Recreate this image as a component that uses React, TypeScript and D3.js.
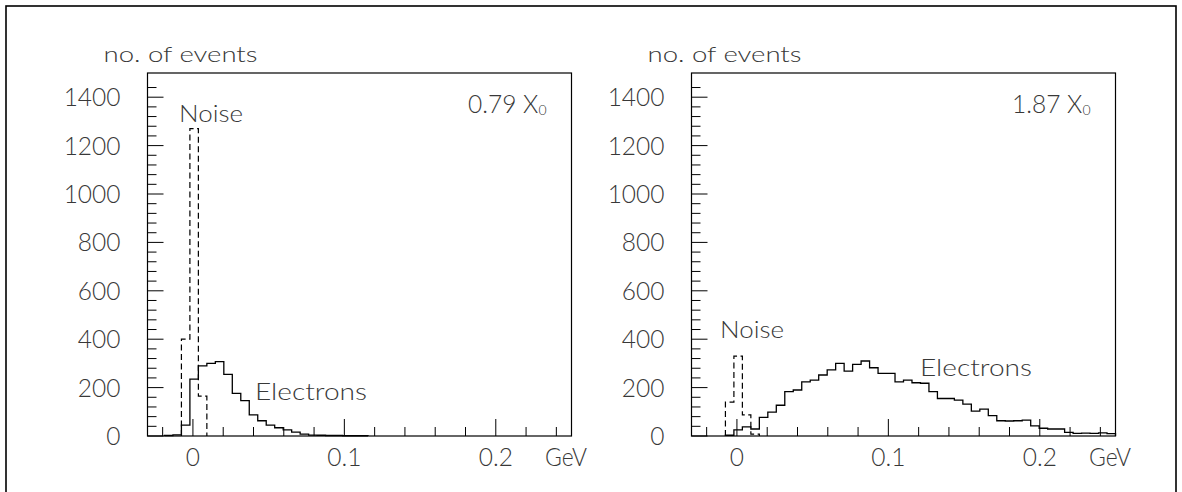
import React from "react";
import * as d3 from "d3";

// Histogram binning shared by both panels: 50 equal bins over the plotted range
const xDomain: [number, number] = [-0.03, 0.25];
const nBins = 50;
const yDomain: [number, number] = [0, 1500];

const yTickValues = [0, 200, 400, 600, 800, 1000, 1200, 1400];
const yTickLabels = ["0", "200", "400", "600", "800", "1000", "1200", "1400"];
const xTickValues = [0, 0.1, 0.2];
const xTickLabels = ["0", "0.1", "0.2"];

// Panel 1: 0.79 X0
const leftElectrons = [
  0, 0, 2, 5, 45, 235, 290, 300, 307, 255, 176, 146, 87, 63, 45, 34, 25, 16, 8, 4,
  3, 2, 2, 1, 1, 1, 0, 0, 0, 0, 0, 0, 0, 0, 0, 0, 0, 0, 0, 0,
  0, 0, 0, 0, 0, 0, 0, 0, 0, 0,
];
const leftNoise = [
  0, 0, 0, 0, 400, 1270, 165, 0, 0, 0, 0, 0, 0, 0, 0, 0, 0, 0, 0, 0,
  0, 0, 0, 0, 0, 0, 0, 0, 0, 0, 0, 0, 0, 0, 0, 0, 0, 0, 0, 0,
  0, 0, 0, 0, 0, 0, 0, 0, 0, 0,
];

// Panel 2: 1.87 X0
const rightElectrons = [
  0, 0, 0, 0, 3, 25, 38, 29, 77, 99, 127, 183, 190, 224, 231, 252, 273, 300, 268, 296,
  310, 282, 259, 259, 224, 231, 220, 218, 183, 155, 155, 148, 132, 103, 111, 84, 63, 62, 63, 66,
  42, 32, 29, 29, 15, 11, 12, 11, 13, 10,
];
const rightNoise = [
  0, 0, 0, 0, 140, 330, 87, 8, 0, 0, 0, 0, 0, 0, 0, 0, 0, 0, 0, 0,
  0, 0, 0, 0, 0, 0, 0, 0, 0, 0, 0, 0, 0, 0, 0, 0, 0, 0, 0, 0,
  0, 0, 0, 0, 0, 0, 0, 0, 0, 0,
];

const FONT = "Lato, 'Open Sans', sans-serif";
const TEXT_COLOR = "#383838";

type PanelProps = {
  left: number;
  right: number;
  top: number;
  bottom: number;
  electrons: number[];
  noise: number[];
  thickness: string;
  noiseLabel: { x: number; y: number };
  electronLabel: { x: number; y: number };
};

// Step outline of a histogram, dropping to the baseline at both ends of its non-empty span
function stepPath(
  values: number[],
  x: d3.ScaleLinear<number, number>,
  y: d3.ScaleLinear<number, number>
): string {
  const width = (xDomain[1] - xDomain[0]) / nBins;
  const first = values.findIndex((v) => v > 0);
  let last = values.length - 1;
  while (last >= 0 && values[last] <= 0) last--;
  if (first < 0) return "";
  const p = d3.path();
  p.moveTo(x(xDomain[0] + first * width), y(0));
  for (let i = first; i <= last; i++) {
    const x0 = x(xDomain[0] + i * width);
    const x1 = x(xDomain[0] + (i + 1) * width);
    p.lineTo(x0, y(values[i]));
    p.lineTo(x1, y(values[i]));
  }
  p.lineTo(x(xDomain[0] + (last + 1) * width), y(0));
  return p.toString();
}

function Panel(props: PanelProps) {
  const { left, right, top, bottom, electrons, noise, thickness } = props;
  const x = d3.scaleLinear().domain(xDomain).range([left, right]);
  const y = d3.scaleLinear().domain(yDomain).range([bottom, top]);

  const yMinor = d3.range(0, 1460, 40).filter((v) => v % 200 !== 0);
  const xMinor = d3
    .range(-0.02, xDomain[1] + 1e-9, 0.02)
    .map((v) => Math.round(v * 100) / 100)
    .filter((v) => Math.abs(Math.round(v * 10) - v * 10) > 1e-6);

  const textProps = {
    fontFamily: FONT,
    fontWeight: 300,
    fill: TEXT_COLOR,
  };

  return (
    <g>
      <text x={left - 44} y={62} fontSize={22} textLength={154} lengthAdjust="spacingAndGlyphs" {...textProps}>
        no. of events
      </text>

      {/* y axis ticks, drawn inward */}
      {yTickValues.map((v) => (
        <line key={"ym" + v} x1={left} x2={left + 16} y1={y(v)} y2={y(v)} stroke="#000" strokeWidth={1} />
      ))}
      {yMinor.map((v) => (
        <line key={"yn" + v} x1={left} x2={left + 9} y1={y(v)} y2={y(v)} stroke="#000" strokeWidth={1} />
      ))}
      {yTickValues.map((v, i) => (
        <text key={"yl" + v} x={left - 27} y={y(v) + 9} textAnchor="end" fontSize={24.5} {...textProps}>
          {yTickLabels[i]}
        </text>
      ))}

      {/* x axis ticks, drawn inward */}
      {xTickValues.map((v) => (
        <line key={"xm" + v} x1={x(v)} x2={x(v)} y1={bottom} y2={bottom - 17} stroke="#000" strokeWidth={1} />
      ))}
      {xMinor.map((v) => (
        <line key={"xn" + v} x1={x(v)} x2={x(v)} y1={bottom} y2={bottom - 9} stroke="#000" strokeWidth={1} />
      ))}
      {xTickValues.map((v, i) => (
        <text key={"xl" + v} x={x(v)} y={bottom + 30} textAnchor="middle" fontSize={24.5} {...textProps}>
          {xTickLabels[i]}
        </text>
      ))}
      <text x={right - 26.5} y={bottom + 30} fontSize={24.5} textLength={42} lengthAdjust="spacingAndGlyphs" {...textProps}>
        GeV
      </text>

      {/* histograms */}
      <path d={stepPath(noise, x, y)} fill="none" stroke="#000" strokeWidth={1.2} strokeDasharray="6,3.5" />
      <path d={stepPath(electrons, x, y)} fill="none" stroke="#000" strokeWidth={1.3} />

      {/* frame */}
      <rect x={left} y={top} width={right - left} height={bottom - top} fill="none" stroke="#000" strokeWidth={1.2} />

      {/* annotations */}
      <text x={right - 25} y={top + 40} textAnchor="end" fontSize={24.5} {...textProps}>
        {thickness + " X"}
        <tspan fontSize={14} dy={2}>
          0
        </tspan>
      </text>
      <text
        x={props.noiseLabel.x}
        y={props.noiseLabel.y}
        fontSize={23}
        textLength={64}
        lengthAdjust="spacingAndGlyphs"
        {...textProps}
      >
        Noise
      </text>
      <text
        x={props.electronLabel.x}
        y={props.electronLabel.y}
        fontSize={23}
        textLength={112}
        lengthAdjust="spacingAndGlyphs"
        {...textProps}
      >
        Electrons
      </text>
    </g>
  );
}

export default function App() {
  return (
    <svg width={1182} height={492} style={{ position: "absolute", left: 0, top: 0, background: "#fff" }}>
      <rect x={0} y={0} width={1182} height={492} fill="#fff" />
      <rect x={6} y={6} width={1170} height={520} fill="none" stroke="#000" strokeWidth={1.6} />
      <Panel
        left={147.5}
        right={571.5}
        top={73}
        bottom={436}
        electrons={leftElectrons}
        noise={leftNoise}
        thickness="0.79"
        noiseLabel={{ x: 179, y: 122 }}
        electronLabel={{ x: 255, y: 400 }}
      />
      <Panel
        left={691.5}
        right={1115.5}
        top={73}
        bottom={436}
        electrons={rightElectrons}
        noise={rightNoise}
        thickness="1.87"
        noiseLabel={{ x: 720, y: 338 }}
        electronLabel={{ x: 920, y: 376 }}
      />
    </svg>
  );
}
